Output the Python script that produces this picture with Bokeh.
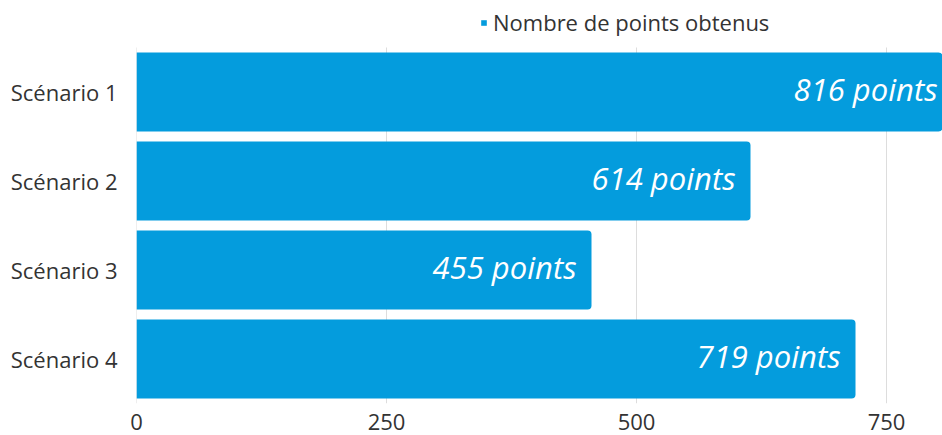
from bokeh.plotting import figure
from bokeh.models import ColumnDataSource, Range1d, Legend, LegendItem
from bokeh.core.properties import value
from bokeh.embed import file_html
from bokeh.resources import INLINE

categories = ["Scénario 1", "Scénario 2", "Scénario 3", "Scénario 4"]
points = [816, 614, 455, 719]
labels = ["816 points", "614 points", "455 points", "719 points"]
series_name = "Nombre de points obtenus"
x_ticks = [0, 250, 500, 750]

BLUE = "#049cdd"
TXT = "#333333"

pos = list(range(1, len(categories) + 1))
src = ColumnDataSource(dict(y=pos, val=points, lab=labels))
n = len(categories)

p = figure(width=942, height=435, output_backend="svg", toolbar_location=None,
           y_range=Range1d(n + 0.5, 0.5 - 47 / 89),
           x_range=Range1d(0, 806),
           min_border_left=136, min_border_right=0, min_border_top=0, min_border_bottom=32)
p.outline_line_color = None
p.background_fill_color = "white"
p.border_fill_color = "white"
p.grid.grid_line_color = None

# vertical grid lines limited to the category band
p.segment(x0=x_ticks, x1=x_ticks, y0=[0.5] * len(x_ticks), y1=[n + 0.5] * len(x_ticks),
          line_color="#dddddd", line_width=1)

r = p.hbar(y="y", right="val", left=0, height=0.888, source=src, fill_color=BLUE,
           line_color=None, border_radius=(0, 4, 4, 0))

p.text(x="val", y="y", text="lab", source=src, x_offset=-15, y_offset=-3, text_align="right",
       text_baseline="middle", text_color="white", text_font=value("Open Sans"),
       text_font_style="italic", text_font_size="31px")

p.xaxis.ticker = x_ticks
p.xaxis.axis_line_color = None
p.xaxis.major_tick_line_color = None
p.xaxis.major_tick_out = 0
p.xaxis.major_tick_in = 0
p.xaxis.minor_tick_line_color = None
p.xaxis.major_label_text_font = "Open Sans"
p.xaxis.major_label_text_font_size = "22px"
p.xaxis.major_label_text_color = TXT
p.xaxis.major_label_standoff = 10

p.yaxis.ticker = pos
p.yaxis.major_label_overrides = {i: c for i, c in zip(pos, categories)}
p.yaxis.axis_line_color = None
p.yaxis.major_tick_line_color = None
p.yaxis.major_tick_out = 0
p.yaxis.major_tick_in = 0
p.yaxis.minor_tick_line_color = None
p.yaxis.major_label_text_font = "Open Sans"
p.yaxis.major_label_text_font_size = "22px"
p.yaxis.major_label_text_color = TXT
p.yaxis.major_label_standoff = 19

legend = Legend(items=[LegendItem(label=series_name, renderers=[r])],
                location=(344, 366), orientation="horizontal",
                label_text_font="Open Sans", label_text_font_size="22px",
                label_text_color=TXT, glyph_width=7, glyph_height=7,
                label_standoff=6, border_line_color=None,
                background_fill_alpha=0, padding=0, margin=0)
p.add_layout(legend, "center")

open("out.html", "w").write(file_html(p, INLINE))
